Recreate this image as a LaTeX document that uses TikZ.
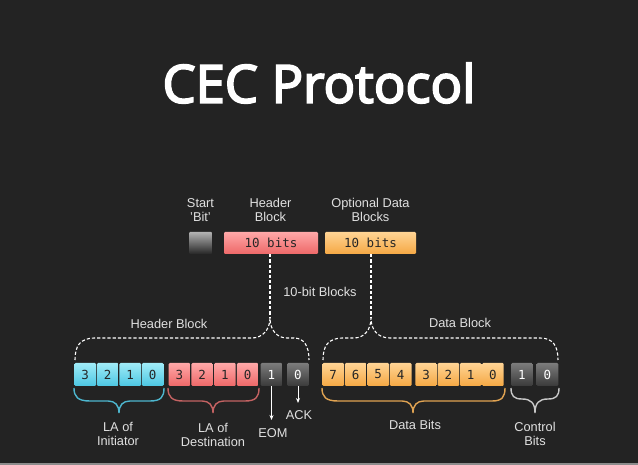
\documentclass[tikz,border=0pt]{standalone}
\usepackage{fontspec}
\setmainfont{Liberation Sans}
\newfontfamily\titlefont[FakeBold=3.5]{Open Sans}
\newfontfamily\monofont{DejaVu Sans Mono}
\usetikzlibrary{arrows.meta,shadings}
\definecolor{bg}{HTML}{232323}
\definecolor{lbl}{HTML}{E0E0E0}
\definecolor{cyanT}{HTML}{A0ECF8}
\definecolor{cyanB}{HTML}{4CC6E2}
\definecolor{pinkT}{HTML}{FFA8A8}
\definecolor{pinkB}{HTML}{EE6868}
\definecolor{oranT}{HTML}{FFD494}
\definecolor{oranB}{HTML}{F5A844}
\definecolor{grayT}{HTML}{7C7C7C}
\definecolor{grayB}{HTML}{3A3A3A}
\definecolor{braceC}{HTML}{4DB6CE}
\definecolor{braceP}{HTML}{C46262}
\definecolor{braceO}{HTML}{E0A352}
\definecolor{braceG}{HTML}{C8C8C8}
\tikzset{
  cellbox/.style={minimum width=21.6pt, minimum height=23pt, inner sep=0pt, rounded corners=1.2pt,
    font=\monofont\fontsize{12.5}{12.5}\selectfont, text=black!85},
  cyancell/.style={cellbox, top color=cyanT, bottom color=cyanB},
  pinkcell/.style={cellbox, top color=pinkT, bottom color=pinkB},
  orancell/.style={cellbox, top color=oranT, bottom color=oranB},
  graycell/.style={cellbox, top color=grayT, bottom color=grayB, text=white!75},
  lbltext/.style={text=lbl, font=\fontsize{12.8}{14.5}\selectfont, align=center, inner sep=0pt},
  dashbrace/.style={draw=white, line width=1.1pt, dash pattern=on 3.2pt off 2pt},
  solbrace/.style={line width=1.4pt},
  arr/.style={draw=white!90, line width=0.9pt, -{Stealth[length=5pt,width=4pt]}}
}
\begin{document}
\begin{tikzpicture}[x=1pt,y=-1pt]
\fill[bg] (0,0) rectangle (638,465);
\fill[black!45] (0,463) rectangle (638,465);
\useasboundingbox (0,0) rectangle (638,465);

\node[text=white, font=\titlefont\fontsize{52.5}{60}\selectfont, inner sep=0pt] (title) at (319,83) {CEC Protocol};

% top row
\node[lbltext] (lstart) at (200.5,210) {Start\\'Bit'};
\node[lbltext] (lhead) at (270.5,210) {Header\\Block};
\node[lbltext] (ldata) at (370.5,210) {Optional Data\\Blocks};
\node[minimum width=23pt, minimum height=22pt, inner sep=0pt, rounded corners=1pt, top color=black!30, bottom color=black!85] (start) at (200.5,243) {};
\node[cellbox, minimum width=94pt, minimum height=22pt, top color=pinkT, bottom color=pinkB] (hblk) at (271,243) {10 bits};
\node[cellbox, minimum width=91pt, minimum height=22pt, top color=oranT, bottom color=oranB] (dblk) at (370.5,243) {10 bits};

\coordinate (htip) at (270,318);
\coordinate (dtip) at (371,318);
\draw[dashbrace] (hblk.south -| htip) -- (htip);
\draw[dashbrace] (dblk.south -| dtip) -- (dtip);
\node[lbltext] (tenbit) at (320,292) {10-bit Blocks};

% header brace
\draw[dashbrace] (75,360) .. controls (75,346) and (80,338) .. (95,338) -- (252,338)
  .. controls (262,338) and (270,330) .. (htip)
  .. controls (270,330) and (277,338) .. (287,338) -- (294,338)
  .. controls (304,338) and (309,346) .. (309,360);
\node[lbltext] (lhb) at (169,324) {Header Block};
% data brace
\draw[dashbrace] (323,360) .. controls (323,346) and (328,338) .. (343,338) -- (354,338)
  .. controls (364,338) and (371,330) .. (dtip)
  .. controls (371,330) and (378,338) .. (390,338) -- (540,338)
  .. controls (553,338) and (558,346) .. (558,360);
\node[lbltext] (ldb) at (460,323) {Data Block};

% cells
\foreach \x/\t/\n in {85.25/3/c3,107.75/2/c2,130.25/1/c1,152.75/0/c0}
  \node[cyancell] (\n) at (\x,374.5) {\t};
\foreach \x/\t/\n in {179.4/3/p3,202.1/2/p2,224.9/1/p1,247.6/0/p0}
  \node[pinkcell] (\n) at (\x,374.5) {\t};
\node[graycell] (eom) at (271.5,374.5) {1};
\node[graycell] (ack) at (298,374.5) {0};
\foreach \x/\t/\n in {333.25/7/o7,355.75/6/o6,378.25/5/o5,400.75/4/o4,426.1/3/o3,448.4/2/o2,470.6/1/o1,492.9/0/o0}
  \node[orancell] (\n) at (\x,374.5) {\t};
\node[graycell] (g1) at (522,374.5) {1};
\node[graycell] (g0) at (547.5,374.5) {0};

% bottom braces
\draw[solbrace, braceC] (74,388) .. controls (74,397) and (78,401) .. (90,401) -- (108,401)
  .. controls (115,401) and (119,405) .. (119,413)
  .. controls (119,405) and (123,401) .. (130,401) -- (150,401)
  .. controls (161,401) and (164,397) .. (164,388);
\draw[solbrace, braceP] (168,388) .. controls (168,397) and (172,401) .. (183,401) -- (202,401)
  .. controls (209,401) and (213,405) .. (213,413)
  .. controls (213,405) and (217,401) .. (224,401) -- (245,401)
  .. controls (256,401) and (259,397) .. (259,388);
\draw[solbrace, braceO] (322,388) .. controls (322,397) and (326,401) .. (338,401) -- (402,401)
  .. controls (409,401) and (413,405) .. (413,413)
  .. controls (413,405) and (417,401) .. (424,401) -- (492,401)
  .. controls (502,401) and (505,397) .. (505,388);
\draw[solbrace, braceG] (511,388) .. controls (511,396) and (514,399) .. (522,399)
  .. controls (531,399) and (535,403) .. (535,413)
  .. controls (535,403) and (539,399) .. (548,399)
  .. controls (556,399) and (559,396) .. (559,388);

\node[lbltext] (lai) at (118,434) {LA of\\Initiator};
\node[lbltext] (lad) at (213,435) {LA of\\Destination};
\node[lbltext] (ldbits) at (415,425) {Data Bits};
\node[lbltext] (lctl) at (535,434) {Control\\Bits};

\coordinate (eomend) at (271.5,420);
\coordinate (ackend) at (298,403);
\draw[arr] (eom.south) -- (eomend);
\draw[arr] (ack.south) -- (ackend);
\node[lbltext] (leom) at (273,433) {EOM};
\node[lbltext] (lack) at (299,415) {ACK};
\end{tikzpicture}
\end{document}
